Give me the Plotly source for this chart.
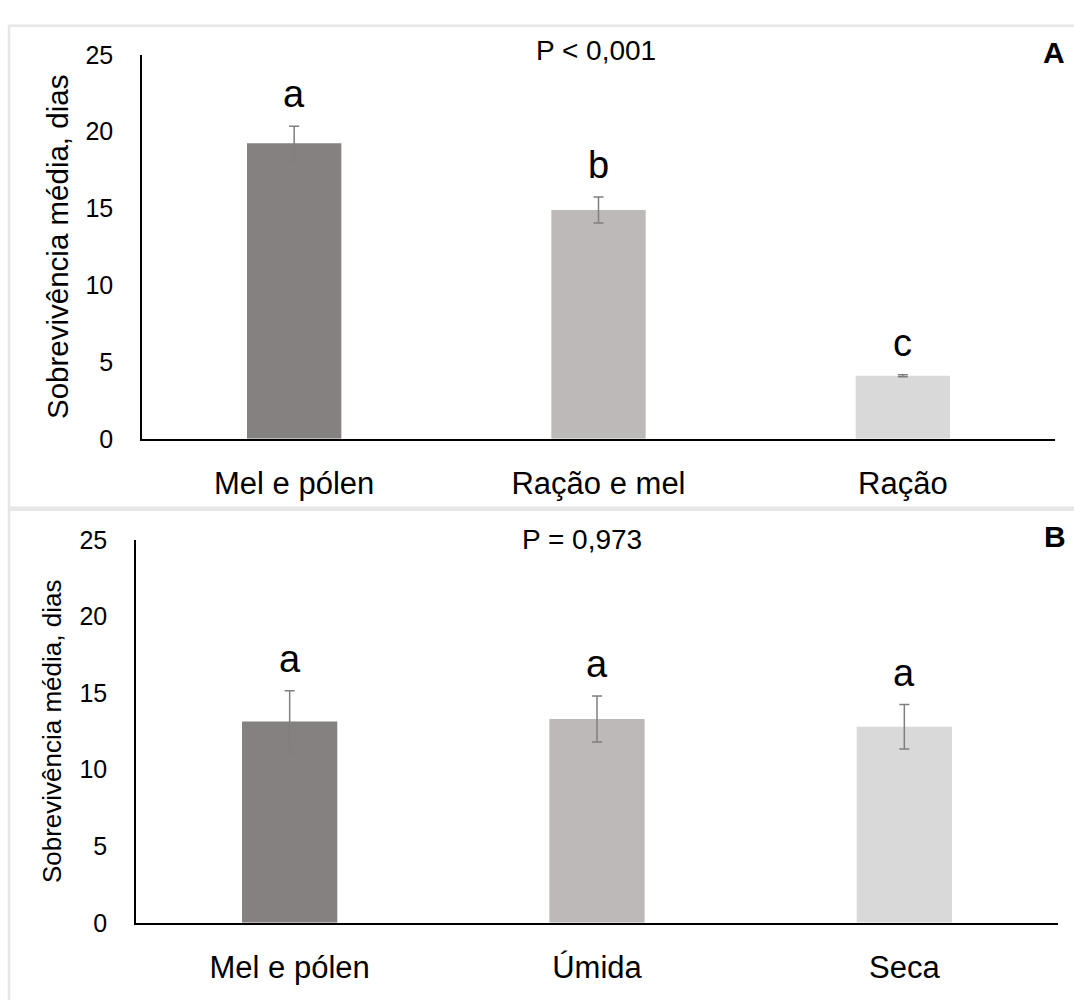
import plotly.graph_objects as go

# Panel A data
cats_a = ["Mel e pólen", "Ração e mel", "Ração"]
mean_a = [19.25, 14.9, 4.1]
err_a = [1.1, 0.85, 0.06]
letters_a = ["a", "b", "c"]
p_a = "P < 0,001"

# Panel B data
cats_b = ["Mel e pólen", "Úmida", "Seca"]
mean_b = [13.15, 13.3, 12.8]
err_b = [2.0, 1.5, 1.45]
letters_b = ["a", "a", "a"]
p_b = "P = 0,973"

colors = ["#858180", "#bdb9b8", "#d9d9d9"]
yticks = [0, 5, 10, 15, 20, 25]
ytitle = "Sobrevivência média, dias"

FONT = "Liberation Sans, Arial, Helvetica, sans-serif"
W, H = 1074, 1000

fig = go.Figure()

fig.add_trace(go.Bar(
    x=cats_a, y=mean_a, marker=dict(color=colors, line=dict(width=0)),
    error_y=dict(type="data", array=err_a, color="#7f7f7f", thickness=1.5, width=5),
    xaxis="x", yaxis="y", width=0.31, showlegend=False,
))
fig.add_trace(go.Bar(
    x=cats_b, y=mean_b, marker=dict(color=colors, line=dict(width=0)),
    error_y=dict(type="data", array=err_b, color="#7f7f7f", thickness=1.5, width=5),
    xaxis="x2", yaxis="y2", width=0.31, showlegend=False,
))

annotations = []
for c, m, e, l in zip(cats_a, mean_a, err_a, letters_a):
    annotations.append(dict(x=c, y=m + e, xref="x", yref="y", text=l, showarrow=False,
                            yanchor="middle", yshift=32, font=dict(size=38, color="black", family=FONT)))
for c, m, e, l in zip(cats_b, mean_b, err_b, letters_b):
    annotations.append(dict(x=c, y=m + e, xref="x2", yref="y2", text=l, showarrow=False,
                            yanchor="middle", yshift=32, font=dict(size=38, color="black", family=FONT)))

annotations += [
    dict(x=596 / W, y=1 - 38 / H, xref="paper", yref="paper", text=p_a, showarrow=False,
         xanchor="center", yanchor="middle", font=dict(size=28, color="black", family=FONT)),
    dict(x=582 / W, y=1 - 541 / H, xref="paper", yref="paper", text=p_b, showarrow=False,
         xanchor="center", yanchor="middle", font=dict(size=28, color="black", family=FONT)),
    dict(x=1054 / W, y=1 - 40 / H, xref="paper", yref="paper", text="<b>A</b>", showarrow=False,
         xanchor="center", yanchor="middle", font=dict(size=30, color="black", family=FONT)),
    dict(x=1055 / W, y=1 - 538 / H, xref="paper", yref="paper", text="<b>B</b>", showarrow=False,
         xanchor="center", yanchor="middle", font=dict(size=30, color="black", family=FONT)),
]

shapes = [
    dict(type="rect", xref="paper", yref="paper", x0=9 / W, x1=1.02, y0=1 - 508 / H, y1=1 - 12 / H,
         line=dict(color="#e6e6e6", width=2.5), fillcolor="rgba(0,0,0,0)", layer="below"),
    dict(type="rect", xref="paper", yref="paper", x0=9 / W, x1=1.02, y0=-0.02, y1=1 - 510 / H,
         line=dict(color="#e6e6e6", width=2.5), fillcolor="rgba(0,0,0,0)", layer="below"),
]

common_y = dict(range=[0, 25], tickvals=yticks, showgrid=False, zeroline=False,
                showline=True, linecolor="black", linewidth=1.5,
                ticks="outside", ticklen=22, tickcolor="rgba(0,0,0,0)",
                tickfont=dict(size=25, color="black", family=FONT))
common_x = dict(showgrid=False, zeroline=False, showline=True, linecolor="black", linewidth=1.5,
                ticks="outside", ticklen=16, tickcolor="rgba(0,0,0,0)",
                tickfont=dict(size=31, color="black", family=FONT), range=[-0.5, 2.5])

fig.update_layout(
    width=W, height=H,
    margin=dict(l=0, r=0, t=0, b=0),
    paper_bgcolor="white", plot_bgcolor="white",
    font=dict(family=FONT, color="black"),
    xaxis=dict(domain=[142 / W, 1055 / W], anchor="y", **common_x),
    yaxis=dict(domain=[1 - 437 / H, 1 - 42 / H], anchor="x",
               title=dict(text=ytitle, font=dict(size=29.5, color="black", family=FONT), standoff=8),
               **common_y),
    xaxis2=dict(domain=[136 / W, 1058 / W], anchor="y2", **common_x),
    yaxis2=dict(domain=[1 - 935 / H, 1 - 541 / H], anchor="x2",
                title=dict(text=ytitle, font=dict(size=26, color="black", family=FONT), standoff=10),
                **common_y),
    annotations=annotations,
    shapes=shapes,
    bargap=0.69,
)

fig.write_html("out.html")
